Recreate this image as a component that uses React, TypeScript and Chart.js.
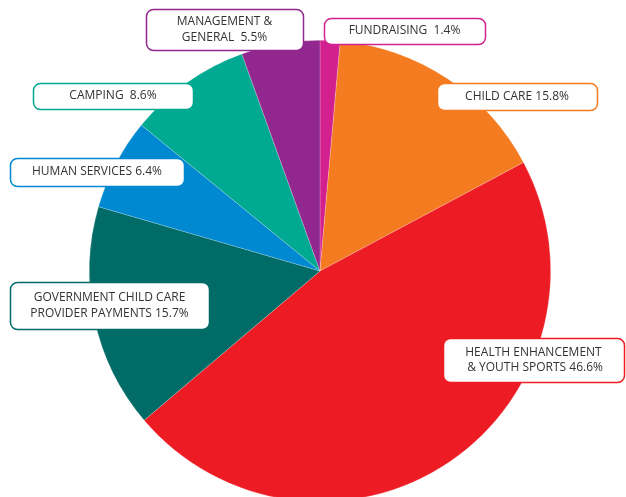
import React, { useEffect, useRef } from "react";
import { Chart, registerables } from "chart.js";

Chart.register(...registerables);

const categories = [
  "FUNDRAISING",
  "CHILD CARE",
  "HEALTH ENHANCEMENT & YOUTH SPORTS",
  "GOVERNMENT CHILD CARE PROVIDER PAYMENTS",
  "HUMAN SERVICES",
  "CAMPING",
  "MANAGEMENT & GENERAL",
];
const values = [1.4, 15.8, 46.6, 15.7, 6.4, 8.6, 5.5];
const colors = ["#D2218E", "#F47B20", "#ED1C24", "#006B67", "#0089D0", "#00A991", "#92278F"];
const labelLines = [
  ["FUNDRAISING  1.4%"],
  ["CHILD CARE 15.8%"],
  ["HEALTH ENHANCEMENT", " & YOUTH SPORTS 46.6%"],
  ["GOVERNMENT CHILD CARE", "PROVIDER PAYMENTS 15.7%"],
  ["HUMAN SERVICES 6.4%"],
  ["CAMPING  8.6%"],
  ["MANAGEMENT &", "GENERAL  5.5%"],
];

// label box layout: [x, y, w, h]
const labelBoxes = [
  [324, 18, 161, 26],
  [437, 83, 160, 27],
  [443, 338, 181, 44],
  [10, 282, 199, 47],
  [10, 158, 174, 28],
  [33, 83, 160, 26],
  [146, 9, 157, 41],
];

const CANVAS_W = 626;
const CANVAS_H = 510;

function roundRect(ctx: CanvasRenderingContext2D, x: number, y: number, w: number, h: number, r: number) {
  ctx.beginPath();
  ctx.moveTo(x + r, y);
  ctx.lineTo(x + w - r, y);
  ctx.arcTo(x + w, y, x + w, y + r, r);
  ctx.lineTo(x + w, y + h - r);
  ctx.arcTo(x + w, y + h, x + w - r, y + h, r);
  ctx.lineTo(x + r, y + h);
  ctx.arcTo(x, y + h, x, y + h - r, r);
  ctx.lineTo(x, y + r);
  ctx.arcTo(x, y, x + r, y, r);
  ctx.closePath();
}

const labelPlugin = {
  id: "boxLabels",
  afterDraw(chart: any) {
    const ctx: CanvasRenderingContext2D = chart.ctx;
    ctx.save();
    labelBoxes.forEach((b, i) => {
      const [x, y, w, h] = b;
      roundRect(ctx, x + 0.5, y + 0.5, w, h, 7);
      ctx.fillStyle = "#ffffff";
      ctx.fill();
      ctx.lineWidth = 1.5;
      ctx.strokeStyle = colors[i];
      ctx.stroke();
      const lines = labelLines[i];
      ctx.fillStyle = "#333333";
      ctx.font = "12px 'Open Sans'";
      ctx.textAlign = "center";
      ctx.textBaseline = "middle";
      const lh = 15.5;
      const cy = y + h / 2;
      lines.forEach((ln, j) => {
        const ly = cy + (j - (lines.length - 1) / 2) * lh;
        ctx.fillText(ln, x + w / 2, ly);
      });
    });
    ctx.restore();
  },
};

export default function App() {
  const ref = useRef<HTMLCanvasElement>(null);
  useEffect(() => {
    document.body.style.margin = "0";
    const chart = new Chart(ref.current!, {
      type: "pie",
      data: {
        labels: categories,
        datasets: [
          {
            data: values,
            backgroundColor: colors,
            borderWidth: 0.6,
            borderColor: "rgba(255,255,255,0.35)",
          },
        ],
      },
      options: {
        responsive: false,
        animation: false,
        layout: { padding: { top: 40, bottom: CANVAS_H - 502, left: 89, right: CANVAS_W - 551 } },
        plugins: { legend: { display: false }, tooltip: { enabled: false } },
      },
      plugins: [labelPlugin],
    });
    return () => chart.destroy();
  }, []);
  return (
    <div style={{ position: "fixed", left: 0, top: 0, width: 626, height: 497, overflow: "hidden", background: "#fff" }}>
      <canvas ref={ref} width={CANVAS_W} height={CANVAS_H} style={{ display: "block" }} />
    </div>
  );
}
